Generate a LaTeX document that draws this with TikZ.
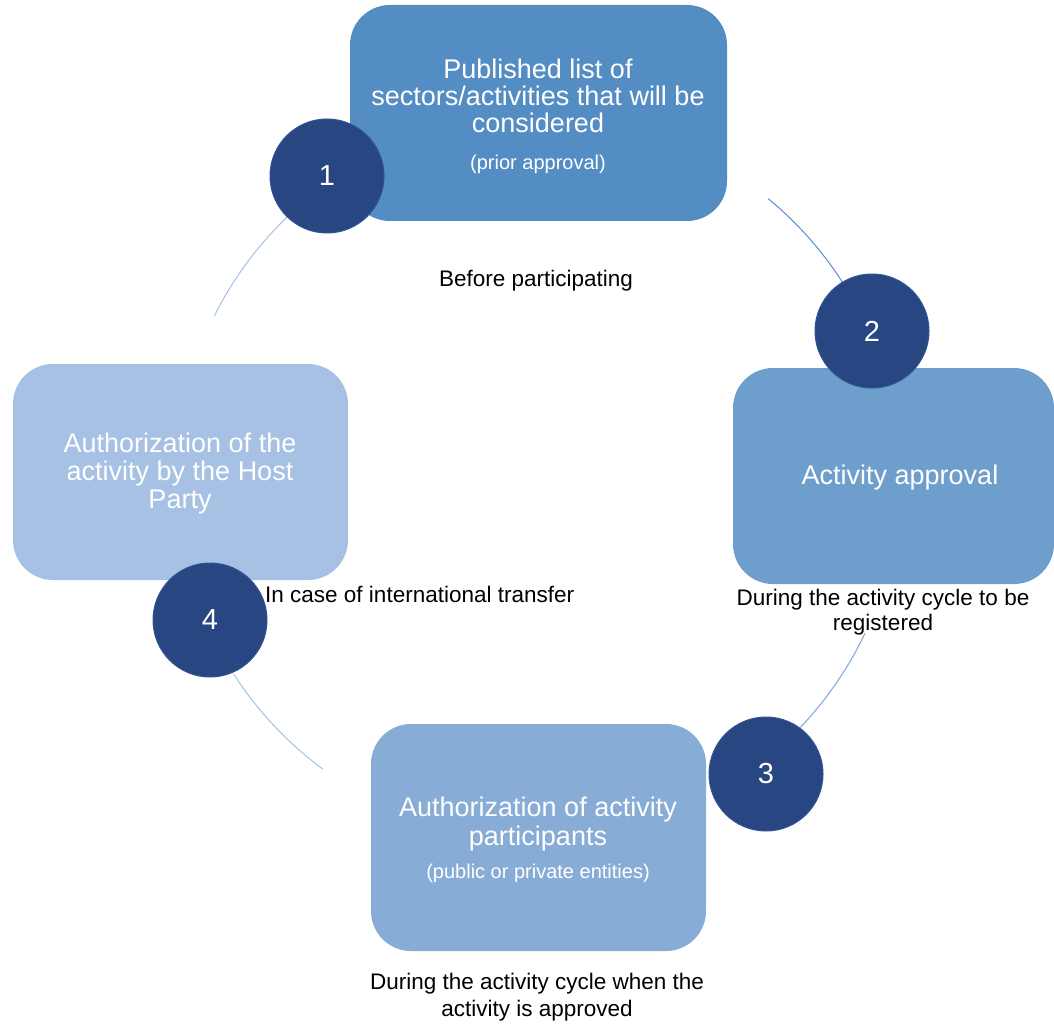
\documentclass[tikz,border=0pt]{standalone}
\usepackage{fontspec}
\setmainfont{Liberation Sans}
\usetikzlibrary{calc}
\definecolor{boxA}{HTML}{548DC3}
\definecolor{boxB}{HTML}{6D9ECC}
\definecolor{boxC}{HTML}{87ACD6}
\definecolor{boxD}{HTML}{A6C1E3}
\definecolor{numfill}{HTML}{284681}
\definecolor{numline}{HTML}{2F5596}
\definecolor{arcA}{HTML}{5A8FCF}
\definecolor{arcB}{HTML}{7DA7DB}
\definecolor{arcC}{HTML}{A3C2E8}
\newcommand\boxtxt{\fontsize{27}{27}\selectfont}
\newcommand\subtxt{\fontsize{20}{20}\selectfont}
\newcommand\lbltxt{\fontsize{22.5}{22.5}\selectfont}
\newcommand\numtxt{\fontsize{29}{29}\selectfont}
\begin{document}
\begin{tikzpicture}[x=1pt,y=-1pt,
  stagebox/.style={rectangle, rounded corners=40pt, inner sep=0pt, draw=none},
  numdisc/.style={circle, fill=numfill, draw=numline, line width=1pt, minimum size=114pt, inner sep=0pt, text=white, font=\numtxt},
  wline/.style={anchor=base, text=white, font=\boxtxt, inner sep=0pt},
  wsub/.style={anchor=base, text=white, font=\subtxt, inner sep=0pt},
  bline/.style={anchor=base, text=black, font=\lbltxt, inner sep=0pt},
  cyc/.style={line width=1pt}]
\useasboundingbox (0,0) rectangle (1054,1024);
\fill[white] (0,0) rectangle (1054,1024);

% cycle arcs
\coordinate (cc) at (538,478);
\coordinate (a12) at ($(cc)+(-50.5:362)$);
\coordinate (a23) at ($(cc)+(25.4:362)$);
\coordinate (a34) at ($(cc)+(126.5:362)$);
\coordinate (a41) at ($(cc)+(206.6:362)$);
\draw[cyc, arcA] (a12) arc[start angle=-50.5, end angle=-32.4, radius=362];
\draw[cyc, arcB] (a23) arc[start angle=25.4, end angle=43.7, radius=362];
\draw[cyc, arcC] (a34) arc[start angle=126.5, end angle=147.2, radius=362];
\draw[cyc, arcC] (a41) arc[start angle=206.6, end angle=226.7, radius=362];

% boxes
\node[stagebox, fill=boxA, minimum width=377pt, minimum height=216pt] (b1) at (538.5,113) {};
\node[stagebox, fill=boxB, minimum width=321pt, minimum height=216pt] (b2) at (893.5,476) {};
\node[stagebox, fill=boxC, minimum width=335pt, minimum height=227pt] (b3) at (538.5,837.5) {};
\node[stagebox, fill=boxD, minimum width=335pt, minimum height=216pt] (b4) at (180.5,472) {};

% number discs
\node[numdisc] (n1) at (327,176) {1};
\node[numdisc] (n2) at (872,331) {2};
\node[numdisc] (n3) at (766,774) {3};
\node[numdisc] (n4) at (210,620) {4};

% box texts
\node[wline] (t1a) at (538,79) {Published list of};
\node[wline] (t1b) at (538,106) {sectors/activities that will be};
\node[wline] (t1c) at (538,133) {considered};
\node[wsub] (t1d) at (538,170) {(prior approval)};

\node[wline] (t2a) at (900,484) {Activity approval};

\node[wline] (t3a) at (538,816) {Authorization of activity};
\node[wline] (t3b) at (538,845) {participants};
\node[wsub] (t3c) at (538,878) {(public or private entities)};

\node[wline] (t4a) at (180,452) {Authorization of the};
\node[wline] (t4b) at (180,480) {activity by the Host};
\node[wline] (t4c) at (180,508) {Party};

% outside labels
\node[bline] (l1) at (536,287) {Before participating};
\node[bline] (l2a) at (883,605) {During the activity cycle to be};
\node[bline] (l2b) at (883,630) {registered};
\node[bline] (l3a) at (537,989) {During the activity cycle when the};
\node[bline] (l3b) at (537,1016) {activity is approved};
\node[bline, anchor=base west] (l4) at (265,602) {In case of international transfer};
\end{tikzpicture}
\end{document}
